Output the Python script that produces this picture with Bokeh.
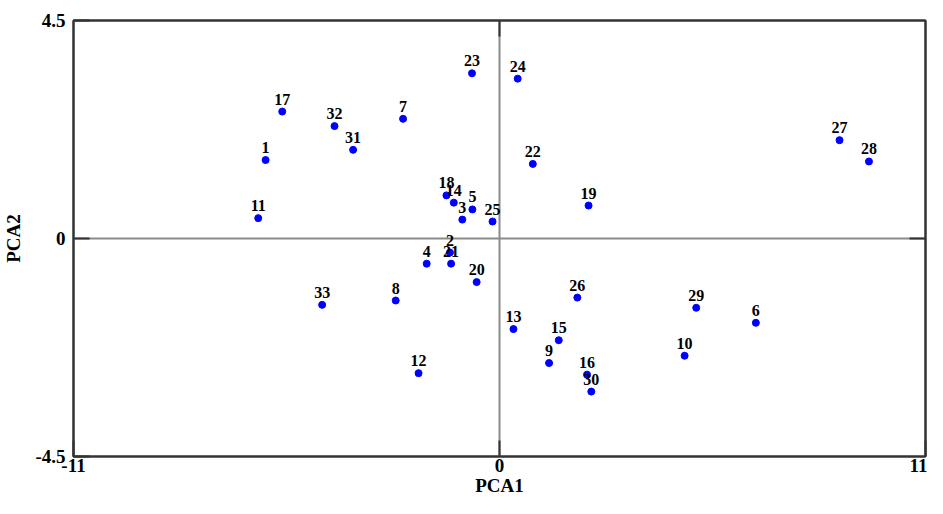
from bokeh.plotting import figure
from bokeh.models import Range1d, FixedTicker, LinearAxis, Span
from bokeh.core.properties import value
from bokeh.embed import file_html
from bokeh.resources import INLINE

labels = [str(i) for i in range(1, 34)]
pca1 = [-6.04, -1.28, -0.96, -1.88, -0.70, 6.62, -2.49, -2.68, 1.28, 4.78,
        -6.23, -2.09, 0.36, -1.18, 1.53, 2.26, -5.61, -1.37, 2.30, -0.59,
        -1.25, 0.86, -0.71, 0.47, -0.18, 2.01, 8.78, 9.54, 5.08, 2.37,
        -3.78, -4.26, -4.58]
pca2 = [1.62, -0.29, 0.39, -0.52, 0.60, -1.74, 2.47, -1.28, -2.57, -2.42,
        0.42, -2.78, -1.87, 0.74, -2.10, -2.81, 2.62, 0.89, 0.68, -0.90,
        -0.52, 1.54, 3.41, 3.30, 0.35, -1.22, 2.03, 1.59, -1.43, -3.16,
        1.83, 2.32, -1.37]
x_ticks = [-11, 0, 11]
y_ticks = [-4.5, 0, 4.5]
x_tick_labels = {-11: "-11", 0: "0", 11: "11"}
y_tick_labels = {-4.5: "-4.5", 0: "0", 4.5: "4.5"}

FONT = "Liberation Serif"
FRAME = "#333333"

p = figure(width=927, height=498, output_backend="svg", toolbar_location=None,
           x_range=Range1d(-11, 11), y_range=Range1d(-4.5, 4.5),
           min_border_left=73, min_border_right=2, min_border_top=20,
           min_border_bottom=42, x_axis_label="PCA1", y_axis_label="PCA2")
p.grid.visible = False
p.outline_line_color = FRAME
p.outline_line_width = 2
p.background_fill_color = "white"
p.border_fill_color = "white"

p.xaxis.ticker = FixedTicker(ticks=x_ticks)
p.yaxis.ticker = FixedTicker(ticks=y_ticks)
p.xaxis.major_label_overrides = x_tick_labels
p.yaxis.major_label_overrides = y_tick_labels

for ax in (p.xaxis[0], p.yaxis[0]):
    ax.axis_line_color = FRAME
    ax.axis_line_width = 2
    ax.major_tick_in = 16
    ax.major_tick_out = 0
    ax.major_tick_line_color = FRAME
    ax.major_tick_line_width = 2
    ax.minor_tick_line_color = None
    ax.major_label_text_font = FONT
    ax.major_label_text_font_style = "bold"
    ax.major_label_text_font_size = "19px"
    ax.major_label_text_color = "black"
    ax.axis_label_text_font = FONT
    ax.axis_label_text_font_style = "bold"
    ax.axis_label_text_font_size = "19px"
    ax.axis_label_text_color = "black"
p.xaxis.major_label_standoff = 2
p.xaxis.axis_label_standoff = 0
p.yaxis.major_label_standoff = 8
p.yaxis.axis_label_standoff = 8

# inner ticks at zero on top and right sides
for side in ("above", "right"):
    ax = LinearAxis(ticker=FixedTicker(ticks=[0]), major_label_overrides={0: ""},
                    axis_line_color=FRAME, axis_line_width=2,
                    major_tick_in=16, major_tick_out=0, major_label_standoff=0,
                    major_tick_line_color=FRAME, major_tick_line_width=2,
                    minor_tick_line_color=None, major_label_text_font_size="1px")
    p.add_layout(ax, side)

p.add_layout(Span(location=0, dimension="width", line_color="#8a8a8a",
                  line_width=2, level="underlay"))
p.add_layout(Span(location=0, dimension="height", line_color="#8a8a8a",
                  line_width=2, level="underlay"))

p.scatter(pca1, pca2, size=7, color="#0000ff")
p.text(pca1, pca2, text=labels, y_offset=-7, text_align="center",
       text_baseline="bottom", text_font=value(FONT), text_font_style="bold",
       text_font_size="16px", text_color="black")

open("out.html", "w").write(file_html(p, INLINE))
